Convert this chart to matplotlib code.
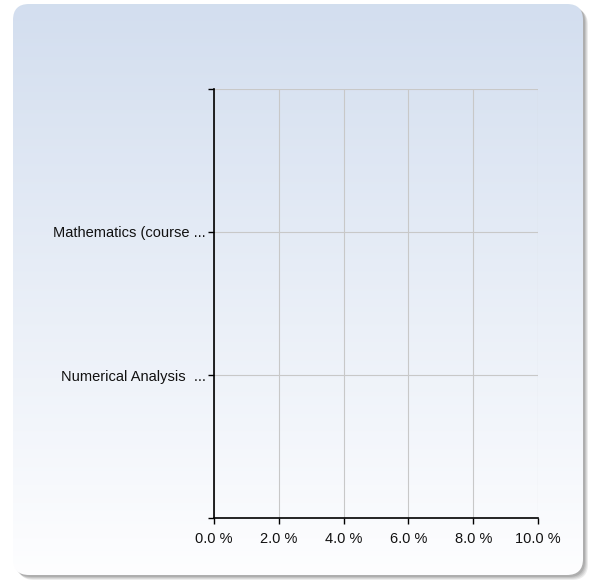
import numpy as np
import matplotlib
matplotlib.use("Agg")
import matplotlib.pyplot as plt
from matplotlib.patches import FancyBboxPatch

categories = ["Mathematics (course ...", "Numerical Analysis  ..."]
values = [0.0, 0.0]
xticks = [0, 2, 4, 6, 8, 10]
xtick_labels = ["0.0 %", "2.0 %", "4.0 %", "6.0 %", "8.0 %", "10.0 %"]

plt.rcParams['font.family'] = ['Liberation Sans', 'DejaVu Sans']

W, H = 594, 582
fig = plt.figure(figsize=(W / 100, H / 100), dpi=100)
fig.patch.set_facecolor("white")

# background panel with shadow
bg = fig.add_axes([0, 0, 1, 1], zorder=-10)
bg.set_xlim(0, W)
bg.set_ylim(H, 0)
bg.axis("off")

for i, a in enumerate([0.10, 0.12, 0.14, 0.18]):
    off = 5 - i
    sh = FancyBboxPatch((13 + off, 4 + off), 570, 571,
                        boxstyle="round,pad=0,rounding_size=16",
                        fc=(0.3, 0.3, 0.3, a), ec="none")
    bg.add_patch(sh)

panel = FancyBboxPatch((13, 4), 570, 571, boxstyle="round,pad=0,rounding_size=16",
                       fc="none", ec="none")
bg.add_patch(panel)
top = np.array([0.827, 0.871, 0.937])
bot = np.array([0.995, 0.996, 1.0])
t = np.linspace(0, 1, 256)[:, None]
grad = top + (bot - top) * t
img = np.repeat(grad[:, None, :], 2, axis=1)
im = bg.imshow(img, extent=(13, 583, 575, 4), aspect="auto", zorder=1,
               interpolation="bilinear")
im.set_clip_path(panel)

# main axes
x0, x1, y0, y1 = 214, 538, 89, 518
ax = fig.add_axes([x0 / W, 1 - y1 / H, (x1 - x0) / W, (y1 - y0) / H])
ax.patch.set_alpha(0)

pos = np.arange(len(categories))[::-1]
ax.barh(pos, values, height=0.6, color="#4572a7")
ax.set_xlim(0, 10)
ax.set_ylim(-1, 2)
ax.set_xticks(xticks)
ax.set_xticklabels(xtick_labels)
ax.set_yticks([-1, 0, 1, 2])
ax.set_yticklabels(["", categories[1], categories[0], ""])

ax.grid(True, color="#c8c8c8", linewidth=0.8)
ax.set_axisbelow(True)
for s in ["top", "right"]:
    ax.spines[s].set_visible(False)
ax.spines["left"].set_color("black")
ax.spines["bottom"].set_color("black")
ax.spines["left"].set_linewidth(1.2)
ax.spines["bottom"].set_linewidth(1.2)
ax.tick_params(axis="both", length=4, width=1, color="black", labelsize=10.5,
               labelcolor="#111111")
ax.tick_params(axis="x", pad=6)
ax.tick_params(axis="y", pad=2)

fig.savefig("out.png", dpi=100)
